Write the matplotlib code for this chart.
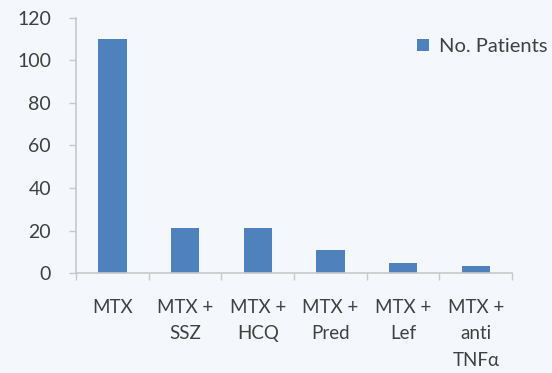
import matplotlib
matplotlib.use("Agg")
import matplotlib.pyplot as plt
import numpy as np

categories = ["MTX", "MTX +\nSSZ", "MTX +\nHCQ", "MTX +\nPred", "MTX +\nLef", "MTX +\nanti\nTNFα"]
patients = [110, 21, 21, 11, 4.5, 3.5]
yticks = [0, 20, 40, 60, 80, 100, 120]

plt.rcParams['font.family'] = ['Lato', 'DejaVu Sans']
fig = plt.figure(figsize=(5.52, 3.73), dpi=100)
fig.patch.set_facecolor('#f4f8fc')
ax = fig.add_axes([0.1377, 0.268, 0.79, 0.684])
ax.set_facecolor('none')

x = np.arange(len(categories))
ax.bar(x, patients, width=0.39, color='#4f81bd', label='No. Patients', zorder=2)
ax.set_xlim(-0.5, len(categories) - 0.5)
ax.set_ylim(0, 120)
ax.set_yticks(yticks)
ax.set_yticklabels([str(t) for t in yticks])

ax.set_xticks(x)
ax.set_xticklabels(categories, linespacing=1.68, fontsize=13.5, color='#404040')
ax.tick_params(axis='x', length=0, pad=18.5)
ax.set_xticks(np.arange(-0.5, len(categories)), minor=True)
ax.tick_params(axis='x', which='minor', length=5, color='#c8c8c8', width=1)
ax.tick_params(axis='y', length=5, color='#c8c8c8', width=1, labelsize=14, labelcolor='#404040', pad=13)

for s in ['top', 'right']:
    ax.spines[s].set_visible(False)
for s in ['left', 'bottom']:
    ax.spines[s].set_color('#c8c8c8')
    ax.spines[s].set_linewidth(1.2)

leg = ax.legend(loc='center left', bbox_to_anchor=(0.783, 0.886), frameon=False,
                handlelength=0.55, handleheight=0.55, handletextpad=0.5, fontsize=14.5,
                labelcolor='#404040', borderaxespad=0, borderpad=0)

fig.savefig('out.png', dpi=100, facecolor=fig.get_facecolor())
